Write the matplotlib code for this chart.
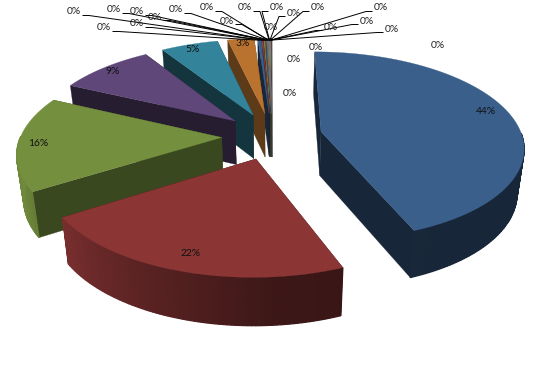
import numpy as np
import matplotlib
matplotlib.use("Agg")
import matplotlib.pyplot as plt

plt.rcParams['font.family'] = ['Lato', 'DejaVu Sans']

# --- Data ---
big_values = [44.0, 22.0, 16.0, 9.0, 5.4, 2.5]
big_labels = ['44%', '22%', '16%', '9%', '5%', '3%']
big_colors = ['#3A5F8B', '#8B3535', '#748F3E', '#5F4879', '#33849B', '#B9732F']
small_values = [0.30, 0.15, 0.10, 0.08, 0.06, 0.05, 0.05, 0.04, 0.04, 0.03, 0.03,
                0.03, 0.02, 0.02, 0.02, 0.02, 0.01, 0.01, 0.01, 0.01, 0.01, 0.01]
small_colors = ['#3A5F8B', '#8B3535', '#748F3E', '#5F4879', '#33849B', '#B9732F',
                '#7F8FA9', '#AA8080', '#9AAB80', '#8D7FA0', '#7FA8B5', '#C9A080',
                '#3A5F8B', '#8B3535', '#748F3E', '#5F4879', '#33849B', '#B9732F',
                '#7F8FA9', '#AA8080', '#9AAB80', '#8D7FA0']

# label pixel positions (layout only)
big_label_pos = [(486, 111), (191, 253), (38, 143), (113, 72), (193, 50), (243, 44)]
leader_label_pos = [(104, 28), (74, 12), (137, 24), (114, 10), (137, 12), (155, 17),
                    (176, 10), (207, 8), (227, 21), (245, 8), (277, 8), (294, 13),
                    (318, 8), (331, 27), (367, 21), (381, 8), (392, 29)]
free_label_pos = [(271, 28), (316, 47), (438, 45), (294, 60), (290, 93)]

# --- Projection of the tilted pie ---
cx, cy = 272, 136
rx, ry = 201, 93
persp = 0.15
explode = 0.25
depth = 44
shrink = 0.972


def project(u, v, bottom=False):
    s = 1 / (1 + persp * v)
    x, y = rx * u * s, -ry * v * s
    if bottom:
        return cx + x * shrink, cy + y + depth * (1 + 0.0007 * y)
    return cx + x, cy + y


def side_shade(deg):
    # arc side is light on the left, dark toward the front right
    return float(np.interp(deg % 360, [0, 150, 175, 205, 237, 250, 300, 360],
                           [0.40, 0.40, 0.44, 0.64, 0.87, 0.96, 0.96, 0.40]))


def shade(color, f):
    rgb = np.array(matplotlib.colors.to_rgb(color))
    return tuple(rgb * f)


def draw_slice(ax, a0, a1, color):
    mid = np.radians((a0 + a1) / 2)
    ou, ov = explode * np.sin(mid), explode * np.cos(mid)
    angs = np.append(np.arange(a0, a1, 1.0), a1)
    us = ou + np.sin(np.radians(angs))
    vs = ov + np.cos(np.radians(angs))
    # green and orange side faces are a bit lighter in the reference
    dark = shade(color, 0.5 if color in ('#748F3E', '#B9732F') else 0.40)

    # radial faces
    for k in (0, -1):
        pts = [project(ou, ov), project(us[k], vs[k]),
               project(us[k], vs[k], True), project(ou, ov, True)]
        ax.fill(*zip(*pts), color=dark, lw=0.2)

    # outer arc side, only the part facing the viewer
    for i in range(len(angs) - 1):
        if np.cos(np.radians(angs[i])) > 0:
            continue
        pts = [project(us[i], vs[i]), project(us[i + 1], vs[i + 1]),
               project(us[i + 1], vs[i + 1], True), project(us[i], vs[i], True)]
        c = shade(color, side_shade(angs[i]))
        ax.fill(*zip(*pts), facecolor=c, edgecolor=c, lw=0.9)

    # top face
    top = [project(ou, ov)] + [project(a, b) for a, b in zip(us, vs)]
    ax.fill(*zip(*top), color=color, lw=0.2)


fig = plt.figure(figsize=(5.51, 3.66), dpi=100)
ax = fig.add_axes([0, 0, 1, 1])
ax.set_xlim(0, 551)
ax.set_ylim(366, 0)
ax.axis('off')

values = big_values + small_values
colors = big_colors + small_colors
edges = np.concatenate([[0], np.cumsum(values)]) / sum(values) * 360
slices = [(edges[i], edges[i + 1], colors[i]) for i in range(len(values))]

# back to front
slices.sort(key=lambda s: -np.cos(np.radians((s[0] + s[1]) / 2)))
for a0, a1, c in slices:
    draw_slice(ax, a0, a1, c)

# --- Labels ---
for txt, (x, y) in zip(big_labels, big_label_pos):
    ax.text(x, y, txt, fontsize=7.4, ha='center', va='center', color='#111111')

small_mid = (edges[len(big_values):-1] + edges[len(big_values) + 1:]) / 2
for i, (x, y) in enumerate(leader_label_pos):
    ang = np.radians(small_mid[i])
    tip = project((1 + explode) * np.sin(ang), (1 + explode) * np.cos(ang))
    side = 1 if x < tip[0] else -1
    ax.plot([x + side * 9, x + side * 15, tip[0]], [y + 3.5, y + 3.5, tip[1] + 2],
            color='black', lw=0.7)
    ax.text(x, y, '0%', fontsize=7.4, ha='center', va='center', color='#222222')
for x, y in free_label_pos:
    ax.text(x, y, '0%', fontsize=7.4, ha='center', va='center', color='#222222')

fig.savefig('out.png', dpi=100)
